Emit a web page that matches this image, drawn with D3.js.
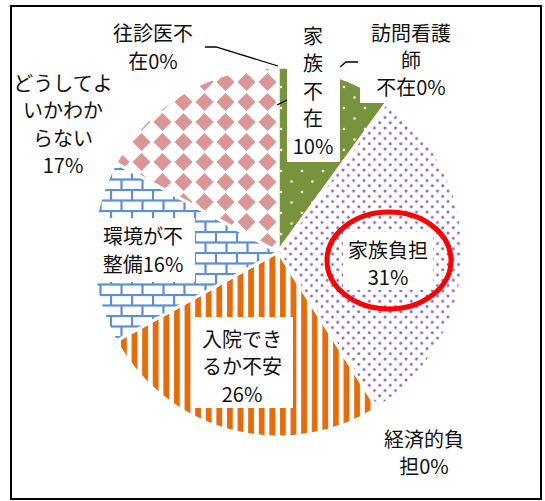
<!DOCTYPE html>
<html><head><meta charset="utf-8">
<script src="https://cdn.jsdelivr.net/npm/d3@7"></script>
<style>html,body{margin:0;padding:0;background:#fff;}svg{display:block;}</style>
</head><body>
<svg id="chart" width="545" height="501"></svg>
<script>
// ---- data ----
const categories = ["家族不在","訪問看護師不在","家族負担","経済的負担","入院できるか不安","環境が不整備","どうしてよいかわからない","往診医不在"];
const values = [10, 0, 31, 0, 26, 16, 17, 0];
const highlighted = ["家族負担"];

// ---- layout (positions / styles) ----
const W = 545, H = 501;
const cx = 278, cy = 252, R = 185;
const patternIds = ["pGreen","pNone","pPurple","pNone","pOrange","pBlue","pPink","pNone"];
const labelLayout = [
  {x:313, y:35,  dy:27.5, breaks:[1,1,1,1], box:[287,18,53,144], leader:[[277,105],[287,100]]},
  {x:411, y:32,  dy:27,   breaks:[4,1],     box:[360,14,100,89], leader:[[340,67],[346,62],[358,62]]},
  {x:388, y:249, dy:27.5, breaks:[4],       box:[343,232,90,58]},
  {x:424, y:438, dy:27.5, breaks:[4]},
  {x:242, y:338, dy:27.5, breaks:[4,4],     box:[193,317,100,91]},
  {x:143, y:235, dy:28,   breaks:[4],       box:[92,218,103,64]},
  {x:63,  y:82,  dy:27.5, breaks:[5,4,3]},
  {x:153, y:32,  dy:28,   breaks:[4],       leader:[[205,47],[216,47],[278,66]]}
];

const svg = d3.select("#chart");
svg.append("rect").attr("width", W).attr("height", H).attr("fill", "#fff");

// ---- patterns ----
const defs = svg.append("defs");
function pat(id, w, h) {
  return defs.append("pattern").attr("id", id).attr("patternUnits", "userSpaceOnUse")
    .attr("width", w).attr("height", h);
}
// green with white dots
let p = pat("pGreen", 21, 21);
p.append("rect").attr("width", 21).attr("height", 21).attr("fill", "#77933C");
p.append("circle").attr("cx", 3).attr("cy", 3).attr("r", 1.3).attr("fill", "#fff");
p.append("circle").attr("cx", 13.5).attr("cy", 13.5).attr("r", 1.3).attr("fill", "#fff");
// purple dots
p = pat("pPurple", 10.5, 10.5);
p.append("rect").attr("width", 10.5).attr("height", 10.5).attr("fill", "#fff");
p.append("circle").attr("cx", 2).attr("cy", 2).attr("r", 1.5).attr("fill", "#8B64C8");
p.append("circle").attr("cx", 7.25).attr("cy", 7.25).attr("r", 1.5).attr("fill", "#8B64C8");
// orange vertical stripes
p = pat("pOrange", 10.6, 10);
p.append("rect").attr("width", 10.6).attr("height", 10).attr("fill", "#fff");
p.append("rect").attr("x", 2).attr("width", 5.8).attr("height", 10).attr("fill", "#E46C0A");
// blue bricks
p = pat("pBlue", 21, 21);
p.append("rect").attr("width", 21).attr("height", 21).attr("fill", "#fff");
const bc = "#5B8FD6", bw = 2.2;
p.append("line").attr("x1", 0).attr("x2", 21).attr("y1", 1).attr("y2", 1).attr("stroke", bc).attr("stroke-width", bw);
p.append("line").attr("x1", 0).attr("x2", 21).attr("y1", 11.5).attr("y2", 11.5).attr("stroke", bc).attr("stroke-width", bw);
p.append("line").attr("x1", 1).attr("x2", 1).attr("y1", 1).attr("y2", 11.5).attr("stroke", bc).attr("stroke-width", bw);
p.append("line").attr("x1", 11.5).attr("x2", 11.5).attr("y1", 11.5).attr("y2", 21).attr("stroke", bc).attr("stroke-width", bw);
// pink diamonds
p = pat("pPink", 21, 20);
p.append("rect").attr("width", 21).attr("height", 20).attr("fill", "#fff");
p.append("path").attr("d", "M10.5,1 L19.5,10 L10.5,19 L1.5,10 Z").attr("fill", "#D99694");
pat("pNone", 10, 10).append("rect").attr("width", 10).attr("height", 10).attr("fill", "#fff");

// ---- pie ----
const pie = d3.pie().sort(null).value(d => d)(values);
const arc = d3.arc().innerRadius(0).outerRadius(R);
const g = svg.append("g").attr("transform", `translate(${cx},${cy})`);
g.selectAll("path.slice").data(pie).join("path")
  .attr("class", "slice")
  .attr("d", arc)
  .attr("fill", (d, i) => `url(#${patternIds[i]})`)
  .attr("stroke", "#fff").attr("stroke-width", d => d.value > 0 ? 3 : 0);

// ---- label boxes ----
labelLayout.forEach(l => {
  if (l.box) svg.append("rect").attr("x", l.box[0]).attr("y", l.box[1])
    .attr("width", l.box[2]).attr("height", l.box[3]).attr("fill", "#fff");
});
// leader lines
labelLayout.forEach(l => {
  if (l.leader) svg.append("path").attr("d", d3.line()(l.leader))
    .attr("fill", "none").attr("stroke", "#000").attr("stroke-width", 1.3);
});

// ---- labels ----
function splitLabel(name, value, breaks) {
  const lines = []; let pos = 0;
  breaks.forEach(b => { lines.push(name.slice(pos, pos + b)); pos += b; });
  lines.push(name.slice(pos) + value + "%");
  return lines;
}
categories.forEach((c, i) => {
  const l = labelLayout[i];
  const lines = splitLabel(c, values[i], l.breaks);
  const t = svg.append("text")
    .attr("font-family", "'Noto Sans CJK JP', 'Noto Sans', sans-serif")
    .attr("font-size", 20).attr("fill", "#111").attr("text-anchor", "middle");
  lines.forEach((s, k) => {
    t.append("tspan").attr("x", l.x).attr("y", l.y + k * l.dy)
      .attr("dominant-baseline", "central").text(s);
  });
});

// ---- highlight ellipse ----
highlighted.forEach(h => {
  const i = categories.indexOf(h);
  const l = labelLayout[i];
  svg.append("ellipse").attr("cx", l.x + 1).attr("cy", l.y + 11.5)
    .attr("rx", 62).attr("ry", 48.5)
    .attr("fill", "none").attr("stroke", "#FF0000").attr("stroke-width", 5);
});

// ---- frame ----
svg.append("rect").attr("x", 11).attr("y", 6).attr("width", 530).attr("height", 493)
  .attr("fill", "none").attr("stroke", "#000").attr("stroke-width", 2);
</script>
</body></html>
